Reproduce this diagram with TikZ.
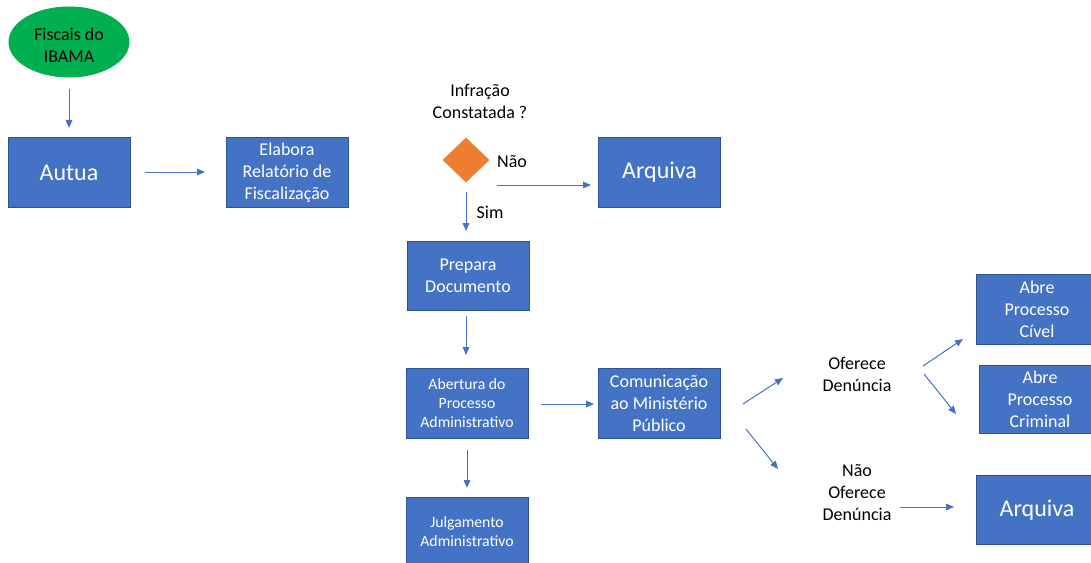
\documentclass[tikz,border=0pt]{standalone}
\usepackage{fontspec}
\setmainfont{Carlito}
\usetikzlibrary{arrows.meta,shapes.geometric}
\definecolor{boxblue}{HTML}{4472C4}
\definecolor{boxedge}{HTML}{2F528F}
\definecolor{flowgreen}{HTML}{00B050}
\definecolor{floworange}{HTML}{ED7D31}
\newcommand{\txtnormal}{\fontsize{13.5}{16.5}\selectfont}
\newcommand{\txtsmall}{\fontsize{11.8}{14.3}\selectfont}
\newcommand{\txtbig}{\fontsize{18}{22}\selectfont}
\begin{document}
\begin{tikzpicture}[x=0.75pt,y=-0.75pt,
  every node/.style={font=\txtnormal, align=center},
  stepbox/.style={draw=boxedge, line width=0.75pt, fill=boxblue, text=white,
    minimum width=91.5pt, minimum height=52pt, inner sep=0pt},
  smalltxt/.style={font=\txtsmall},
  bigtxt/.style={font=\txtbig},
  flow/.style={draw=boxblue, line width=0.75pt, -{Triangle[length=6pt,width=5pt]}}]
\useasboundingbox (0,0) rectangle (1091,563);

% start and decision shapes
\node[ellipse, fill=flowgreen, minimum width=90.75pt, minimum height=53.25pt, inner sep=0pt] (ibama) at (69,42) {};
\node (ibamaTxt) at (69,45) {Fiscais do\\IBAMA};
\node[diamond, fill=floworange, minimum width=35.25pt, minimum height=33.75pt, inner sep=0pt] (decisao) at (466,160) {};
\node (pergunta) at (480,101) {Infração\\Constatada ?};
\node (nao) at (512,162) {Não};
\node (sim) at (490,212) {Sim};

% process boxes
\node[stepbox, bigtxt] (autua) at (69,172.5) {Autua};
\node[stepbox] (elabora) at (287,172.5) {Elabora\\Relatório de\\Fiscalização};
\node[stepbox, bigtxt] (arquivaA) at (659.5,172.5) {Arquiva};
\node[stepbox] (prepara) at (468,276) {Prepara\\Documento};
\node[stepbox, smalltxt] (abertura) at (467,403.5) {Abertura do\\Processo\\Administrativo};
\node[stepbox] (comunica) at (659,403.5) {Comunicação\\ao Ministério\\Público};
\node[stepbox, smalltxt] (julgamento) at (467,532) {Julgamento\\Administrativo};
\node[stepbox] (civel) at (1037,309.5) {Abre\\Processo\\Cível};
\node[stepbox, minimum height=51pt] (criminal) at (1040,399) {Abre\\Processo\\Criminal};
\node[stepbox, bigtxt] (arquivaB) at (1037,510) {Arquiva};

% outcome labels
\node (oferece) at (857,374) {Oferece\\Denúncia};
\node (naoOferece) at (857,493) {Não\\Oferece\\Denúncia};

% arrow end points
\coordinate (c1a) at (69,89);   \coordinate (c1b) at (69,128);
\coordinate (c2a) at (145,172); \coordinate (c2b) at (205,172);
\coordinate (c3a) at (497,185); \coordinate (c3b) at (591,185);
\coordinate (c4a) at (466,192); \coordinate (c4b) at (466,231);
\coordinate (c5a) at (466,316); \coordinate (c5b) at (466,355);
\coordinate (c6a) at (541,404); \coordinate (c6b) at (594,404);
\coordinate (c7a) at (467,450); \coordinate (c7b) at (467,488);
\coordinate (c8a) at (743,404); \coordinate (c8b) at (783,378);
\coordinate (c9a) at (746,429); \coordinate (c9b) at (778,469);
\coordinate (c10a) at (923,366); \coordinate (c10b) at (963,339);
\coordinate (c11a) at (924,374); \coordinate (c11b) at (956,414);
\coordinate (c12a) at (900,507); \coordinate (c12b) at (954,507);

% connectors
\draw[flow] (c1a) -- (c1b);
\draw[flow] (c2a) -- (c2b);
\draw[flow] (c3a) -- (c3b);
\draw[flow] (c4a) -- (c4b);
\draw[flow] (c5a) -- (c5b);
\draw[flow] (c6a) -- (c6b);
\draw[flow] (c7a) -- (c7b);
\draw[flow] (c8a) -- (c8b);
\draw[flow] (c9a) -- (c9b);
\draw[flow] (c10a) -- (c10b);
\draw[flow] (c11a) -- (c11b);
\draw[flow] (c12a) -- (c12b);
\end{tikzpicture}
\end{document}
